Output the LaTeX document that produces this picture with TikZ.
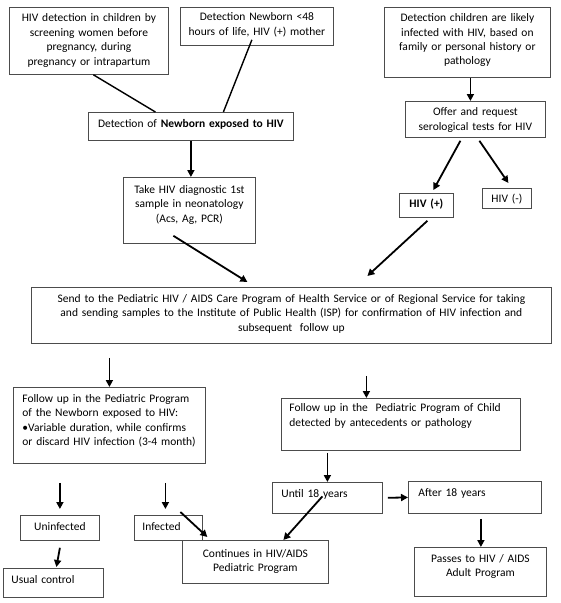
\documentclass[tikz,border=0pt]{standalone}
\usepackage{fontspec}
\setmainfont{Carlito}
\usetikzlibrary{arrows.meta}

\begin{document}
\begin{tikzpicture}[x=1pt, y=-1pt, >={Triangle[length=7pt, width=7pt]},
    box/.style={draw=black!70, line width=0.8pt, anchor=north west, inner ysep=0pt, inner xsep=3pt, align=center, font=\fontsize{11.5}{14.4}\selectfont},
    left box/.style={box, align=left, inner xsep=8pt},
    arrow/.style={->, line width=1.8pt},
    link/.style={line width=1.4pt}]

\fill[white] (0,0) rectangle (561,603);
\useasboundingbox (0,0) rectangle (561,603);

%% Detection boxes
\node [box, text width=153pt, text height=14.5pt, text depth=52.5pt] (screening) at (9,7)
    {HIV detection in children by\\screening women before\\pregnancy, during\\pregnancy or intrapartum};
\node [box, text width=147pt, text height=13.5pt, text depth=24.5pt] (newborn48) at (180,7)
    {Detection Newborn <48\\hours of life, HIV (+) mother};
\node [box, text width=199pt, text height=15.5pt, text depth=12.5pt] (exposed) at (88,112)
    {Detection of \textbf{Newborn exposed to HIV}};
\node [box, text width=160pt, text height=14.3pt, text depth=55.7pt] (likely) at (384,7)
    {Detection children are likely\\infected with HIV, based on\\family or personal history or\\pathology};
\node [box, text width=134pt, text height=14.5pt, text depth=21.5pt] (offer) at (405,101)
    {Offer and request\\serological tests for HIV};
\node [box, text width=48pt, text height=14pt, text depth=10pt] (hivpos) at (399,193)
    {\textbf{HIV (+)}};
\node [box, text width=43pt, text height=14.5pt, text depth=5.5pt] (hivneg) at (482,188)
    {HIV (-)};
\node [box, text width=126pt, text height=16pt, text depth=50pt] (takesample) at (123,177)
    {Take HIV diagnostic 1st\\sample in neonatology\\(Acs, Ag, PCR)};

%% Program
\node [box, text width=514pt, text height=15pt, text depth=41pt] (send) at (31,287)
    {Send to the Pediatric HIV / AIDS Care Program of Health Service or of Regional Service for taking\\
     and sending samples to the Institute of Public Health (ISP) for confirmation of HIV infection and\\
     subsequent\ \ follow up};
\node [left box, inner xsep=9pt, text width=174pt, text height=15pt, text depth=61pt] (followNB) at (13,387)
    {Follow up in the Pediatric Program\\of the Newborn exposed to HIV:\\•Variable duration, while confirms\\or discard HIV infection (3-4 month)};
\node [left box, text width=223pt, text height=13.5pt, text depth=38.5pt] (followCH) at (281,398)
    {Follow up in the\ \ Pediatric Program of Child\\detected by antecedents or pathology};
\node [left box, inner xsep=9pt, text width=92pt, text height=15pt, text depth=16pt] (until) at (272,482)
    {Until 18 years};
\node [left box, inner xsep=10pt, text width=113pt, text height=15.5pt, text depth=16.5pt] (after) at (408,481)
    {After 18 years};
\node [box, text width=126pt, text height=15pt, text depth=34pt] (passes) at (414,547)
    {Passes to HIV / AIDS\\Adult Program};
\node [box, text width=140pt, text height=17pt, text depth=26pt] (continues) at (182,540)
    {Continues in HIV/AIDS\\Pediatric Program};
\node [box, text width=73pt, text height=15.5pt, text depth=9.5pt] (uninf) at (20,515)
    {Uninfected};
\node [left box, text width=52pt, text height=15.5pt, text depth=9.5pt] (infected) at (134,515)
    {Infected};
\node [left box, text width=84pt, text height=15.5pt, text depth=13.5pt] (usual) at (3,568)
    {Usual control};

%% Connectors
\draw[link] ([xshift=4.5pt]screening.south) -- ([xshift=-35.5pt]exposed.north);
\draw[link] ([xshift=-5pt, yshift=6pt]newborn48.south) -- ([xshift=32.5pt]exposed.north);
\draw[arrow] (exposed.south) -- (exposed.south |- takesample.north);
\draw[arrow] ([xshift=3pt]likely.south) -- ([xshift=3pt]likely.south |- offer.north);
\draw[arrow] ([xshift=-15pt, yshift=-3pt]offer.south) -- ([xshift=7pt, yshift=3pt]hivpos.north);
\draw[arrow] ([xshift=4pt, yshift=-3pt]offer.south) -- ([xshift=1.5pt, yshift=5pt]hivneg.north);
\draw[arrow] ([xshift=-16pt, yshift=8pt]takesample.south) -- ([xshift=-44pt, yshift=5pt]send.north);
\draw[arrow] ([xshift=1pt, yshift=-3pt]hivpos.south) -- ([xshift=76pt, yshift=11pt]send.north);

\draw[arrow, shorten <=14pt] (followNB.north |- send.south) -- (followNB.north);
\draw[arrow] ([xshift=75pt, yshift=-32pt]send.south) -- ([xshift=-34.5pt]followCH.north);
\draw[arrow, shorten <=2pt] (until.north |- followCH.south) -- (until.north);
\draw[arrow, shorten <=5pt] (until.east) -- (after.west);
\draw[arrow, shorten <=5pt] ([xshift=6pt]after.south) -- ([xshift=6pt]after.south |- passes.north);
\draw[arrow] ([xshift=-5pt, yshift=1.5pt]until.center) -- ([xshift=28pt]continues.north);

\draw[arrow, shorten <=19pt, shorten >=6pt] (uninf.north |- followNB.south) -- (uninf.north);
\draw[arrow] ([xshift=56pt, yshift=-19pt]followNB.south) -- ([xshift=-3pt, yshift=6pt]infected.north);
\draw[arrow] ([yshift=-7pt]uninf.south) -- ([xshift=3pt, yshift=1pt]usual.north);
\draw[arrow] ([xshift=12pt, yshift=3pt]infected.north) -- ([xshift=-48pt, yshift=3pt]continues.north);

\end{tikzpicture}
\end{document}
